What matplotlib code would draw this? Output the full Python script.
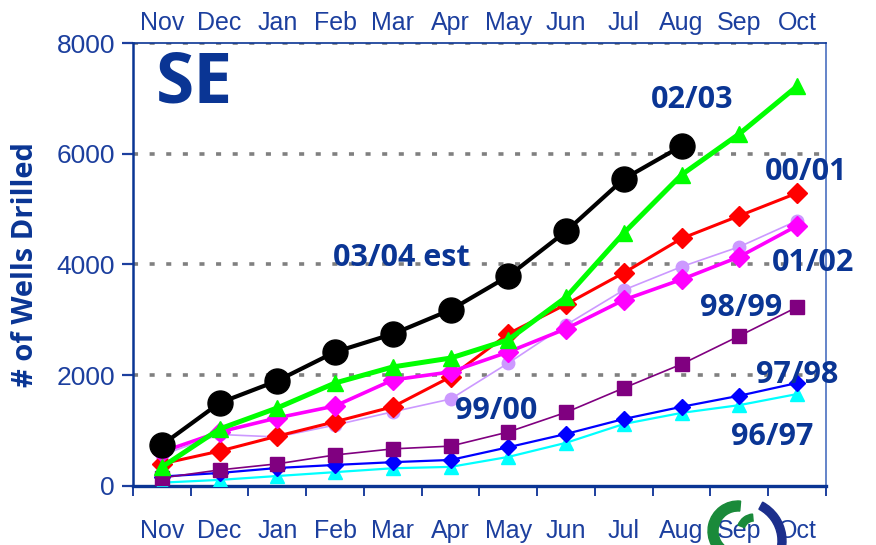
import matplotlib.pyplot as plt
from matplotlib.patches import Wedge

months = ['Nov', 'Dec', 'Jan', 'Feb', 'Mar', 'Apr', 'May', 'Jun', 'Jul', 'Aug', 'Sep', 'Oct']

wells_9697 = [60, 110, 180, 250, 320, 345, 525, 780, 1120, 1320, 1460, 1660]
wells_9798 = [170, 235, 325, 380, 430, 470, 700, 940, 1210, 1430, 1630, 1860]
wells_9899 = [145, 290, 400, 560, 670, 720, 975, 1330, 1770, 2200, 2710, 3230]
wells_9900 = [560, 930, 885, 1100, 1340, 1570, 2220, 2910, 3540, 3960, 4320, 4790]
wells_0001 = [400, 630, 900, 1160, 1430, 1970, 2750, 3280, 3850, 4470, 4880, 5290]
wells_0102 = [615, 975, 1230, 1445, 1915, 2060, 2420, 2840, 3360, 3730, 4140, 4700]
wells_0304 = [340, 1030, 1410, 1860, 2150, 2310, 2640, 3410, 4570, 5620, 6360, 7220]
wells_0203 = [740, 1500, 1900, 2420, 2745, 3180, 3790, 4600, 5545, 6140]

BLUE = '#0a3594'
TICK_BLUE = '#1c3f9e'

plt.rcParams['font.family'] = ['Liberation Sans', 'DejaVu Sans']

fig = plt.figure(figsize=(8.76, 5.45), dpi=100)
ax = fig.add_axes([0.1518, 0.1083, 0.7911, 0.8128])

x = list(range(12))

ax.plot(x, wells_9697, color='#00ffff', lw=1.6, marker='^', ms=10, zorder=3)
ax.plot(x, wells_9798, color='#0000ff', lw=1.6, marker='D', ms=8, zorder=3)
ax.plot(x, wells_9899, color='#800080', lw=1.2, marker='s', ms=10, zorder=3)
ax.plot(x, wells_9900, color='#cc99ff', lw=1.2, marker='o', ms=9, zorder=4)
ax.plot(x, wells_0001, color='#ff0000', lw=2.2, marker='D', ms=10, zorder=5)
ax.plot(x, wells_0102, color='#ff00ff', lw=2.6, marker='D', ms=10, zorder=6)
ax.plot(x, wells_0304, color='#00ff00', lw=3.6, marker='^', ms=12, zorder=7)
ax.plot(x[:len(wells_0203)], wells_0203, color='black', lw=3.0, marker='o', ms=18, zorder=8)

ax.set_xlim(-0.5, 11.5)
ax.set_ylim(0, 8000)
ax.set_yticks([0, 2000, 4000, 6000, 8000])
for v in [2000, 4000, 6000, 8000]:
    ax.axhline(v, color='#808080', lw=2.6, ls=(0, (1.4, 3.2)), zorder=1)

ax.set_xticks(x)
ax.set_xticklabels(months)
ax.set_xticks([i - 0.5 for i in range(13)], minor=True)
ax.tick_params(axis='x', which='major', length=0, pad=24, labelsize=18,
               labelcolor=TICK_BLUE)
ax.tick_params(axis='x', which='minor', length=7, width=1.4, color=TICK_BLUE, direction='out')
ax.tick_params(axis='y', length=8, width=1.6, color=TICK_BLUE, pad=5,
               labelsize=19, labelcolor=TICK_BLUE)

top = ax.secondary_xaxis('top')
top.set_xticks(x)
top.set_xticklabels(months)
top.tick_params(length=0, pad=6, labelsize=18, labelcolor=TICK_BLUE)
top.spines['top'].set_visible(False)

ax.spines['left'].set_color(BLUE)
ax.spines['left'].set_linewidth(1.8)
ax.spines['bottom'].set_color(BLUE)
ax.spines['bottom'].set_linewidth(2.4)
ax.spines['top'].set_color(BLUE)
ax.spines['top'].set_linewidth(1.2)
ax.spines['right'].set_color('#4a6fc0')
ax.spines['right'].set_linewidth(1.2)

ax.set_ylabel('# of Wells Drilled', fontsize=21, fontweight='bold', color=BLUE,
              family=['Open Sans', 'DejaVu Sans'], labelpad=12)

lab = dict(color=BLUE, fontweight='bold', family=['Open Sans', 'DejaVu Sans'],
           fontsize=22, ha='center', va='center', zorder=10)
ax.text(0.57, 7250, 'SE', **{**lab, 'fontsize': 50})
ax.text(9.18, 6970, '02/03', **lab)
ax.text(11.15, 5670, '00/01', **lab)
ax.text(11.28, 4030, '01/02', **lab)
ax.text(10.03, 3210, '98/99', **lab)
ax.text(11.0, 2000, '97/98', **lab)
ax.text(10.56, 885, '96/97', **lab)
ax.text(5.79, 1355, '99/00', **lab)
ax.text(4.14, 4120, '03/04 est', **lab)

# partial logo in the lower right corner
fig.patches.append(Wedge((738, 14), 30, 85, 250, width=10, color='#1a8a3a',
                         transform=None, zorder=0))
fig.patches.append(Wedge((754, 14), 17, 95, 160, width=7, color='#1a8a3a',
                         transform=None, zorder=0))
fig.patches.append(Wedge((742, 4), 44, -45, 62, width=8, color='#1c2f8c',
                         transform=None, zorder=0))

fig.savefig('out.png', dpi=100)
